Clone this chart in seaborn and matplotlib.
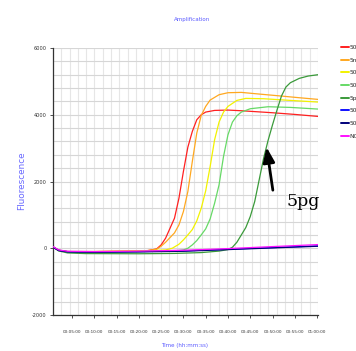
import numpy as np
import pandas as pd
import matplotlib
matplotlib.use("Agg")
import matplotlib.pyplot as plt
from matplotlib.lines import Line2D
import seaborn as sns

# ---- data (time in minutes, fluorescence) ----
series_names = ["50ng", "5ng", "500pg", "50pg", "5pg", "500fg", "50fg", "NC"]
series_colors = ["#ff2020", "#ffa820", "#f2f200", "#66d966", "#3a9a3a", "#1010ff", "#00007a", "#ff10ff"]

t_50ng = [0.74, 2, 4, 10, 16, 20, 22, 24, 25, 26, 27, 28, 29, 30, 31, 32, 33, 34, 35, 37, 40, 43, 50, 55, 60.2]
v_50ng = [40, -60, -100, -100, -90, -80, -70, -20, 100, 300, 600, 900, 1500, 2300, 3030, 3500, 3850, 4000, 4080, 4130, 4140, 4120, 4060, 4010, 3950]

t_5ng = [0.74, 2, 4, 10, 16, 22, 24, 25, 26, 27, 28, 29, 30, 31, 32, 33, 34, 35, 36, 38, 40, 43, 47, 52, 56, 60.2]
v_5ng = [40, -60, -100, -100, -90, -70, -30, 60, 180, 320, 460, 700, 1100, 1700, 2600, 3450, 3980, 4250, 4440, 4600, 4660, 4670, 4620, 4560, 4510, 4460]

t_500pg = [0.74, 2, 4, 10, 16, 22, 26, 27.5, 29, 30, 31, 32, 33, 34, 35, 36, 37, 38, 39, 40, 42, 44, 48, 54, 60.2]
v_500pg = [40, -60, -100, -100, -90, -75, -50, 0, 120, 250, 400, 560, 820, 1200, 1720, 2450, 3250, 3780, 4080, 4250, 4430, 4490, 4480, 4430, 4380]

t_50pg = [0.74, 2, 4, 10, 20, 28, 30, 31, 32, 33, 34, 35, 36, 37, 38, 39, 40, 41, 42, 43, 45, 49, 54, 60.2]
v_50pg = [40, -60, -110, -115, -100, -80, -50, 0, 100, 230, 400, 580, 880, 1350, 1900, 2750, 3400, 3780, 3970, 4080, 4180, 4240, 4220, 4170]

t_5pg = [0.74, 2, 4, 8, 20, 28, 34, 38, 40, 41, 42, 43, 44, 45, 46, 47, 48, 49, 50, 51, 52, 53, 54, 56, 58, 60.2]
v_5pg = [40, -80, -140, -160, -165, -155, -130, -85, -40, 30, 180, 400, 620, 950, 1400, 2050, 2700, 3230, 3700, 4140, 4560, 4830, 4960, 5090, 5160, 5200]

t_500fg = [0.74, 2, 4, 10, 20, 30, 40, 50, 60.2]
v_500fg = [40, -60, -100, -110, -100, -80, -30, 20, 70]

t_50fg = [0.74, 2, 4, 10, 20, 30, 40, 50, 60.2]
v_50fg = [30, -70, -110, -120, -110, -90, -40, 10, 60]

t_nc = [0.74, 2, 4, 10, 20, 30, 40, 50, 60.2]
v_nc = [50, -50, -90, -100, -85, -60, -10, 50, 110]

x_tick_minutes = [5, 10, 15, 20, 25, 30, 35, 40, 45, 50, 55, 60]
x_tick_labels = ["00:05:00", "00:10:00", "00:15:00", "00:20:00", "00:25:00", "00:30:00",
                 "00:35:00", "00:40:00", "00:45:00", "00:50:00", "00:55:00", "01:00:00"]
y_ticks = [-2000, 0, 2000, 4000, 6000]
y_tick_labels = ["-2000", "0", "2000", "4000", "6000"]

all_t = [t_50ng, t_5ng, t_500pg, t_50pg, t_5pg, t_500fg, t_50fg, t_nc]
all_v = [v_50ng, v_5ng, v_500pg, v_50pg, v_5pg, v_500fg, v_50fg, v_nc]

frames = []
for name, tt, vv in zip(series_names, all_t, all_v):
    frames.append(pd.DataFrame({"time": tt, "fluor": vv, "sample": name}))
df = pd.concat(frames, ignore_index=True)

# ---- style ----
sns.set_theme(style="white")
plt.rcParams["font.family"] = ["DejaVu Sans"]

fig = plt.figure(figsize=(3.56, 3.51), dpi=100)
ax = fig.add_axes([53 / 356, 1 - 315 / 351, 265 / 356, 267 / 351])

# grid
xmin, xmax = 0.74, 60.2
for gx in np.linspace(xmin, xmax, 33):
    ax.axvline(gx, color="#e6e6e6", lw=0.8, zorder=0)
for gy in np.arange(-2000, 6001, 400):
    ax.axhline(gy, color="#d6d6d6", lw=0.8, zorder=0)

sns.lineplot(data=df, x="time", y="fluor", hue="sample", hue_order=series_names,
             palette=series_colors, estimator=None, sort=True, legend=False,
             linewidth=0.9, ax=ax, zorder=3)

ax.set_xlim(xmin, xmax)
ax.set_ylim(-2000, 6000)
ax.set_xticks(x_tick_minutes)
ax.set_xticklabels(x_tick_labels, fontsize=3.0, color="#333333")
ax.set_yticks(y_ticks)
ax.set_yticklabels(y_tick_labels, fontsize=3.6, color="#333333")
ax.tick_params(axis="both", which="major", length=2.5, width=0.6, color="#333333", pad=2,
               left=True, bottom=True)
ax.tick_params(axis="x", pad=8)

for s in ["top", "right"]:
    ax.spines[s].set_visible(False)
ax.spines["left"].set_color("#333333")
ax.spines["bottom"].set_color("#333333")
ax.spines["left"].set_linewidth(0.9)
ax.spines["bottom"].set_linewidth(0.9)

ax.set_xlabel("")
ax.set_ylabel("")
fig.text(192 / 356, 1 - 20 / 351, "Amplification", fontsize=4.0,
         color="#5a5aff", ha="center", va="center")
fig.text(22 / 356, 1 - 181 / 351, "Fluorescence", fontsize=6.4, color="#6a6aff",
         rotation=90, ha="center", va="center")
fig.text(185 / 356, 1 - 345 / 351, "Time (hh:mm:ss)", fontsize=4.0,
         color="#5a5aff", ha="center", va="center")

# annotation
ax.annotate("", xy=(48.65, 3030), xytext=(50.07, 1740),
            arrowprops=dict(arrowstyle="-|>,head_width=0.35,head_length=0.9",
                            lw=2.0, color="black", shrinkA=0, shrinkB=0,
                            mutation_scale=10), zorder=5)
ax.text(53.2, 1410, "5pg", family="DejaVu Serif", fontsize=12.5, color="black",
        ha="left", va="center", zorder=5, clip_on=False)

# legend (clipped by figure edge like the reference)
handles = [Line2D([0], [0], color=c, lw=1.4) for c in series_colors]
fig.legend(handles, series_names, loc="upper left",
           bbox_to_anchor=(341 / 356, 1 - 45 / 351), frameon=False,
           handlelength=1.3, handletextpad=0.2,
           labelspacing=1.3, borderpad=0, borderaxespad=0,
           prop={"family": "DejaVu Sans", "size": 4.2})

fig.savefig("out.png", dpi=100)
